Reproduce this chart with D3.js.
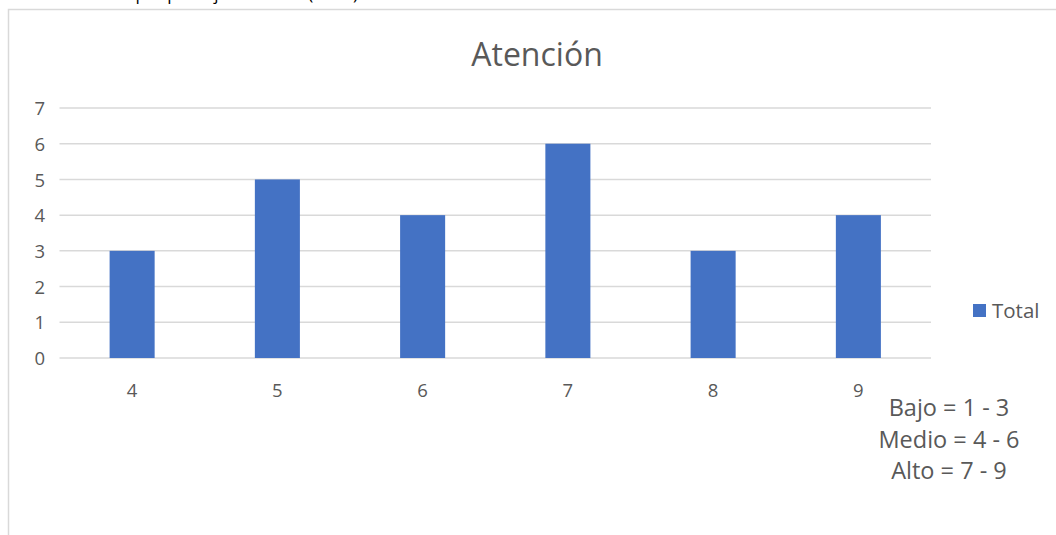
<!DOCTYPE html>
<html>
<head>
<meta charset="utf-8">
<script src="https://cdn.jsdelivr.net/npm/d3@7"></script>
<style>
  html, body { margin: 0; padding: 0; background: #fff; }
  svg { display: block; }
  text { font-family: "Open Sans", "Noto Sans", sans-serif; fill: #595959; }
</style>
</head>
<body>
<svg id="chart" width="1056" height="535"></svg>
<script>
// Attention scores and how many people obtained each one
const categories = ["4", "5", "6", "7", "8", "9"];
const totals = [3, 5, 4, 6, 3, 4];
const yTicks = [0, 1, 2, 3, 4, 5, 6, 7];
const chartTitle = "Atención";
const seriesName = "Total";
const rangeNotes = ["Bajo = 1 - 3", "Medio = 4 - 6", "Alto = 7 - 9"];
const captionText = "Tabla de nivel de atención por puntaje obtenido (n=25)";

const FONT = '"Open Sans", "Noto Sans", sans-serif';
const svg = d3.select("#chart");

// heading of the page above the chart frame (mostly clipped by the window)
svg.append("text")
  .attr("x", 358).attr("y", 0)
  .attr("text-anchor", "end")
  .style("font-size", "17px")
  .style("fill", "#000")
  .text(captionText);

// chart frame
svg.append("rect")
  .attr("x", 8.5).attr("y", 9.5)
  .attr("width", 1100).attr("height", 600)
  .attr("fill", "#fff")
  .attr("stroke", "#d9d9d9")
  .attr("stroke-width", 1.5);

const plot = { left: 59.5, right: 931, top: 108, bottom: 358 };

const x = d3.scaleBand()
  .domain(categories)
  .range([plot.left, plot.right])
  .paddingInner(0.69)
  .paddingOuter(0.345);

const y = d3.scaleLinear()
  .domain([0, 7])
  .range([plot.bottom, plot.top]);

// horizontal gridlines
svg.append("g")
  .selectAll("line")
  .data(yTicks)
  .join("line")
  .attr("x1", plot.left).attr("x2", plot.right)
  .attr("y1", d => y(d)).attr("y2", d => y(d))
  .attr("stroke", "#d9d9d9")
  .attr("stroke-width", 1.5);

// y axis labels
const yAxis = d3.axisLeft(y).tickValues(yTicks).tickFormat(d3.format("d")).tickSize(0).tickPadding(0);
const gy = svg.append("g").attr("transform", `translate(45,0)`).call(yAxis);
gy.select(".domain").remove();
gy.selectAll("text")
  .style("font-size", "18.5px")
  .style("fill", "#595959")
  .style("font-family", FONT)
  .attr("dy", "0.36em");

// bars
svg.append("g")
  .selectAll("rect")
  .data(categories.map((c, i) => ({ c, v: totals[i] })))
  .join("rect")
  .attr("x", d => x(d.c))
  .attr("width", x.bandwidth())
  .attr("y", d => y(d.v))
  .attr("height", d => y(0) - y(d.v))
  .attr("fill", "#4472c4");

// x axis labels
const xAxis = d3.axisBottom(x).tickSize(0).tickPadding(0);
const gx = svg.append("g").attr("transform", `translate(0,${plot.bottom + 32})`).call(xAxis);
gx.select(".domain").remove();
gx.selectAll("text")
  .style("font-size", "18.5px")
  .style("fill", "#595959")
  .style("font-family", FONT)
  .attr("dy", "0.36em");

// title
svg.append("text")
  .attr("x", 537).attr("y", 66)
  .attr("text-anchor", "middle")
  .style("font-size", "32px")
  .text(chartTitle);

// legend
svg.append("rect")
  .attr("x", 973).attr("y", 304)
  .attr("width", 13).attr("height", 13)
  .attr("fill", "#4472c4");
svg.append("text")
  .attr("x", 992).attr("y", 318)
  .style("font-size", "20.5px")
  .text(seriesName);

// score range notes
svg.append("g")
  .selectAll("text")
  .data(rangeNotes)
  .join("text")
  .attr("x", 949)
  .attr("y", (d, i) => 416 + i * 31.5)
  .attr("text-anchor", "middle")
  .style("font-size", "23.5px")
  .text(d => d);
</script>
</body>
</html>
